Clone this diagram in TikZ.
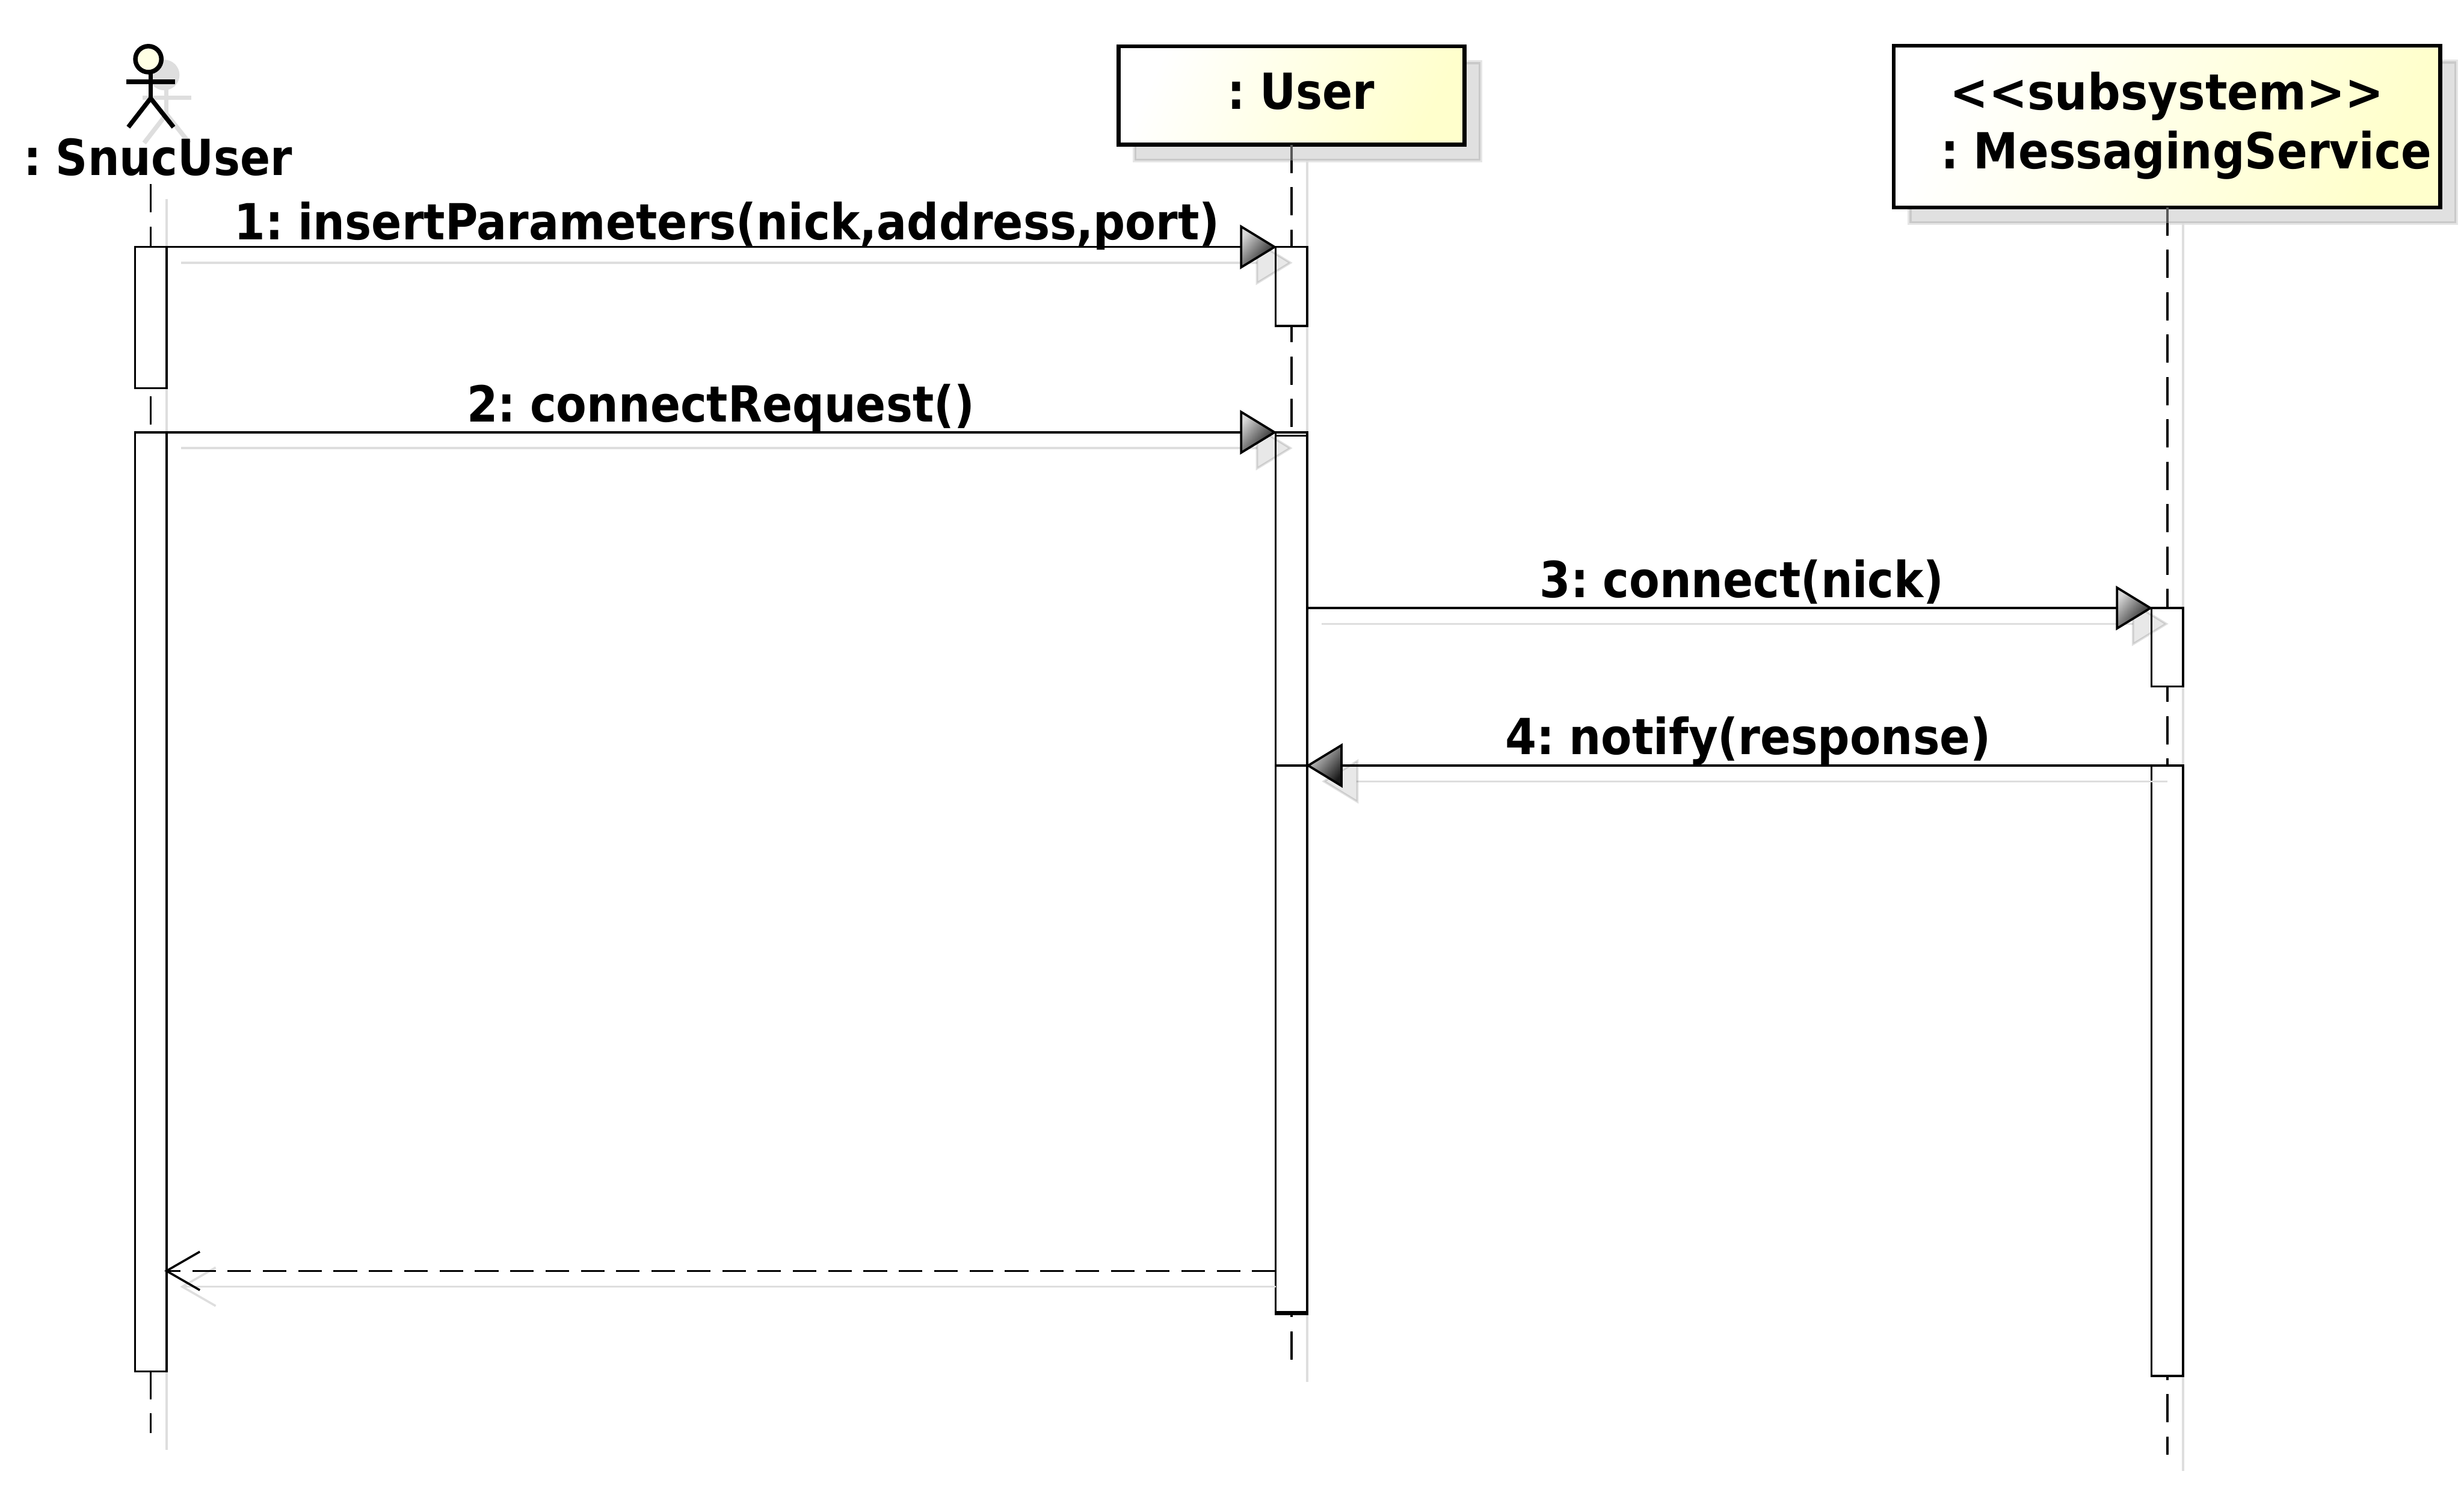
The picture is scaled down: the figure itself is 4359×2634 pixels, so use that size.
\documentclass[tikz,border=0pt]{standalone}
\usepackage{fontspec}
\usepackage{graphicx}
\setmainfont{DejaVu Sans}[WordSpace=0.6]
\usetikzlibrary{calc}
\definecolor{shd}{HTML}{DEDEDE}
\definecolor{yel}{HTML}{FFFFCC}
\definecolor{headyel}{HTML}{FFFFE4}
\newsavebox\fitbox
\newcommand\fittext[2]{\sbox\fitbox{\bfseries\fontsize{88}{100}\selectfont #2}\pgfmathsetmacro\fitr{#1/\the\wd\fitbox}\scalebox{\fitr}[1]{\usebox\fitbox}}
\tikzset{
  objbox/.style={rectangle,draw=black,line width=7pt,inner sep=0pt,outer sep=0pt,left color=white,right color=yel,shading angle=65},
  objshadow/.style={rectangle,fill=black,fill opacity=.12,draw=black,draw opacity=.10,line width=7pt,inner sep=0pt,outer sep=0pt},
  execbox/.style={rectangle,draw=black,fill=white,line width=3.8pt,inner sep=0pt,outer sep=0pt,minimum width=55.5pt},
  life/.style={draw=black,line width=4pt,dash pattern=on 50pt off 25pt},
  lifeshadow/.style={draw=shd,line width=3.8pt},
  msg/.style={draw=black,line width=3.6pt},
  msgshadow/.style={draw=shd,line width=3.6pt},
  retmsg/.style={draw=black,line width=3.8pt,dash pattern=on 41.67pt off 20.83pt},
  openhead/.style={draw=black,line width=3.8pt,line join=miter},
  openheadshadow/.style={draw=shd,line width=3.8pt},
  tri/.style={draw=black,line width=4pt,left color=black!15,right color=black!90,shading angle=50},
  trishadow/.style={fill=black,fill opacity=.09,draw=black,draw opacity=.12,line width=4pt},
  lbl/.style={anchor=base west,inner sep=0pt,outer sep=0pt,text=black},
  stick/.style={draw=black,line width=8pt},
  stickshadow/.style={draw=shd,line width=8pt}
}
\begin{document}
\begin{tikzpicture}[x=1pt,y=-1pt]
\useasboundingbox (0,0) rectangle (4359,2634);
\fill[white] (0,0) rectangle (4359,2634);

% anchors for free ends
\coordinate (actorTop) at (266.5,326);
\coordinate (actorEnd) at (266.5,2536);
\coordinate (actorShTop) at (294.5,352);
\coordinate (actorShEnd) at (294.5,2566);
\coordinate (userEnd) at (2284.5,2406);
\coordinate (userShEnd) at (2312.5,2446);
\coordinate (msEnd) at (3834,2574);
\coordinate (msShEnd) at (3862,2603);
\coordinate (retY) at (0,2249);

% object shadows
\node[objshadow,minimum width=612pt,minimum height=174pt] (userSh) at (2313,197) {};
\node[objshadow,minimum width=967pt,minimum height=286pt] (msSh) at (3861.5,252) {};

% actor shadow
\begin{scope}[shift={(28,28)}]
  \draw[stickshadow,fill=shd] (262.5,104.7) circle[radius=23];
  \draw[stickshadow] (266.5,130) -- (266.5,174);
  \draw[stickshadow] (224,145) -- (310,145);
  \draw[stickshadow] (227,225) -- (266.5,174) -- (307,225);
\end{scope}

% lifeline shadows
\draw[lifeshadow] (actorShTop) -- (actorShEnd);
\draw[lifeshadow] (userSh.south -| userShEnd) -- (userShEnd);
\draw[lifeshadow] (msSh.south -| msShEnd) -- (msShEnd);

% objects
\node[objbox,minimum width=612pt,minimum height=174pt] (user) at (2285,169) {};
\node[objbox,minimum width=967pt,minimum height=286pt] (ms) at (3833.5,224) {};

% lifelines
\draw[life] (actorTop) -- (actorEnd);
\draw[life] (user.south -| userEnd) -- (userEnd);
\draw[life] (ms.south -| msEnd) -- (msEnd);
\draw[draw=black!65,line width=4pt] (user.south -| userEnd) -- (userSh.south -| userEnd);
\draw[draw=black!65,line width=4pt] (ms.south -| msEnd) -- (msSh.south -| msEnd);

% actor
\draw[stick,fill=headyel] (262.5,104.7) circle[radius=23];
\draw[stick] (266.5,130) -- (266.5,174);
\draw[stick] (224,145) -- (310,145);
\draw[stick] (227,225) -- (266.5,174) -- (307,225);

% execution specifications
\node[execbox,minimum height=250pt] (a1) at (266.75,562) {};
\node[execbox,minimum height=1662pt] (a2) at (266.75,1596) {};
\node[execbox,minimum height=140pt] (u1) at (2284.5,507) {};
\node[execbox,minimum height=1561pt] (u2) at (2284.5,1545.5) {};
\node[execbox,minimum height=1551pt] (u3) at (2284.5,1546.5) {};
\node[execbox,minimum height=139pt] (m1) at (3834,1145.5) {};
\node[execbox,minimum height=1080.3pt] (m2) at (3834,1894.85) {};

% messages: shadows
\draw[msgshadow] ([shift={(26,28)}]a1.north east) -- ([shift={(-33,28)}]u1.north west);
\path[trishadow] ([shift={(26,28)}]u1.north west) -- ++(-59,-36) -- ++(0,72) -- cycle;
\draw[msgshadow] ([shift={(26,28)}]a2.north east) -- ([shift={(-33,28)}]u2.north west);
\path[trishadow] ([shift={(26,28)}]u2.north west) -- ++(-59,-36) -- ++(0,72) -- cycle;
\draw[msgshadow] ([shift={(26,28)}]u3.north east |- m1.north) -- ([shift={(-33,28)}]m1.north west);
\path[trishadow] ([shift={(26,28)}]m1.north west) -- ++(-59,-36) -- ++(0,72) -- cycle;
\draw[msgshadow] ([shift={(28,28)}]m2.north west) -- ([shift={(88,28)}]u2.east |- m2.north);
\path[trishadow] ([shift={(30,28)}]u2.east |- m2.north) -- ++(59,-36) -- ++(0,72) -- cycle;
\draw[msgshadow] ([shift={(0,28)}]u2.west |- retY) -- ([shift={(30,28)}]a2.east |- retY);
\draw[openheadshadow] ([shift={(87,-6)}]a2.east |- retY) -- ([shift={(28,28)}]a2.east |- retY) -- ([shift={(87,62)}]a2.east |- retY);

% messages
\draw[msg] (a1.north east) -- (u1.north west);
\path[tri] ([xshift=-2pt]u1.north west) -- ++(-59,-36) -- ++(0,72) -- cycle;
\draw[msg] (a2.north east) -- (u2.north east);
\path[tri] ([xshift=-2pt]u2.north west) -- ++(-59,-36) -- ++(0,72) -- cycle;
\draw[msg] (u3.east |- m1.north) -- (m1.north west);
\path[tri] ([xshift=-2pt]m1.north west) -- ++(-59,-36) -- ++(0,72) -- cycle;
\draw[msg] (m2.north west) -- (u2.west |- m2.north);
\path[tri] ([xshift=2pt]u2.east |- m2.north) -- ++(59,-36) -- ++(0,72) -- cycle;
\draw[retmsg] (u2.west |- retY) -- (a2.east |- retY);
\draw[openhead] ([shift={(59,-34)}]a2.east |- retY) -- (a2.east |- retY) -- ([shift={(59,34)}]a2.east |- retY);

% labels
\node[lbl] (actorLbl) at (42,310) {\fittext{475}{: SnucUser}};
\node[lbl] (userLbl) at (2172,193) {\fittext{260}{: User}};
\node[lbl] (msLbl1) at (3450,194) {\fittext{767}{<{}<subsystem>{}>}};
\node[lbl] (msLbl2) at (3434,299) {\fittext{868}{: MessagingService}};
\node[lbl] (m1Lbl) at (415,424) {\fittext{1743}{1: insertParameters(nick,address,port)}};
\node[lbl] (m2Lbl) at (826,746) {\fittext{898}{2: connectRequest()}};
\node[lbl] (m3Lbl) at (2724,1057) {\fittext{715}{3: connect(nick)}};
\node[lbl] (m4Lbl) at (2663,1335) {\fittext{859}{4: notify(response)}};
\end{tikzpicture}
\end{document}
